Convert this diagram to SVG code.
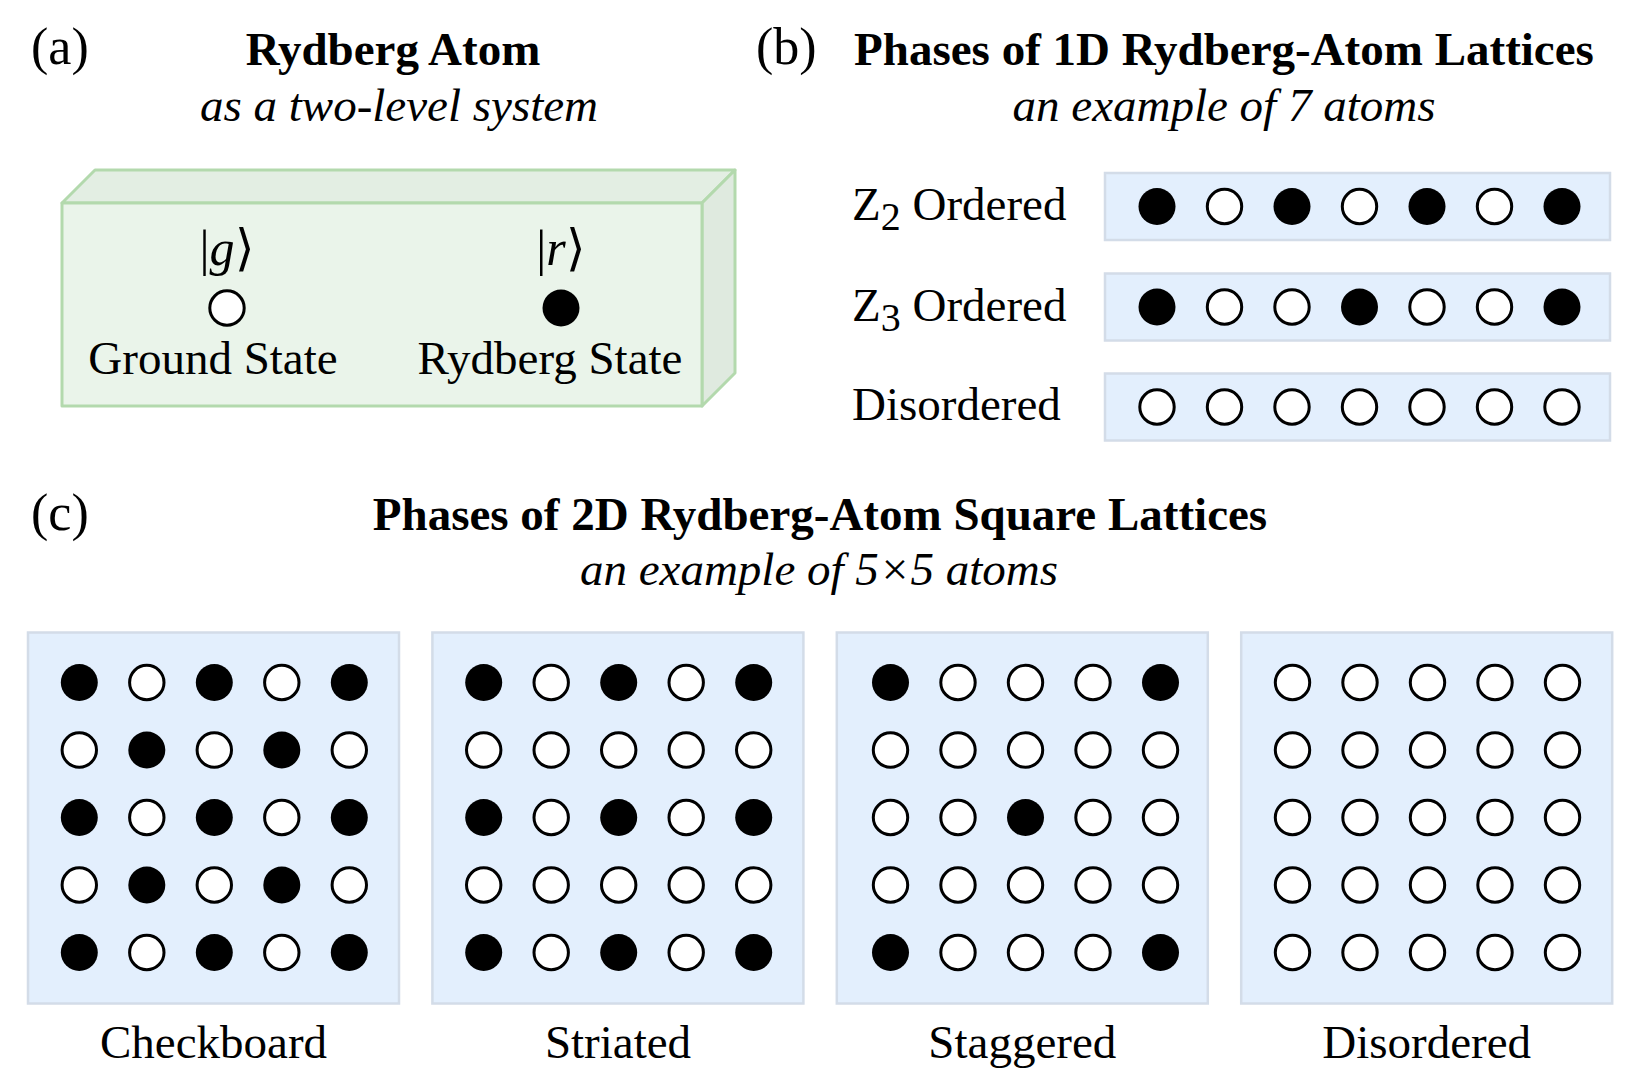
<svg xmlns="http://www.w3.org/2000/svg" xmlns:xlink="http://www.w3.org/1999/xlink" width="1630" height="1084" viewBox="0 0 1630 1084">
<style>
text{font-family:"Liberation Serif","Times New Roman",serif;fill:#000;font-size:47px}
.b{font-weight:bold}
.i{font-style:italic}
.m{text-anchor:middle}
.lab{font-size:52px}
.ket{font-size:50px}
.box{fill:#e3effd;stroke:#d3dce8;stroke-width:2.5}
.gf{fill:#eaf4ea;stroke:#b3d9ad;stroke-width:3;stroke-linejoin:round}
.gt{fill:#e3eee3;stroke:#b3d9ad;stroke-width:3;stroke-linejoin:round}
.gr{fill:#dfeadf;stroke:#b3d9ad;stroke-width:3;stroke-linejoin:round}
</style>
<defs>
<circle id="f" r="18.5" fill="#000"/>
<circle id="o" r="17.2" fill="#fff" stroke="#000" stroke-width="3"/>
</defs>
<rect width="1630" height="1084" fill="#fff"/>

<g id="panel-a">
<text class="lab" x="31" y="64">(a)</text>
<text class="b m" x="393" y="65">Rydberg Atom</text>
<text class="i m" x="399" y="121">as a two-level system</text>
<g id="atom-box">
<polygon class="gt" points="62,203 95,170 735,170 702,203"/>
<polygon class="gr" points="702,203 735,170 735,373 702,406"/>
<rect class="gf" x="62" y="203" width="640" height="203"/>
</g>
<g id="ground">
<text class="m ket" x="227" y="265">|<tspan class="i">g</tspan>⟩</text>
<use href="#o" x="227" y="308"/>
<text class="m" x="213" y="374">Ground State</text>
</g>
<g id="rydberg">
<text class="m ket" x="561" y="265">|<tspan class="i">r</tspan>⟩</text>
<use href="#f" x="561" y="308"/>
<text class="m" x="550" y="374">Rydberg State</text>
</g>
</g>

<g id="panel-b">
<text class="lab" x="756" y="64">(b)</text>
<text class="b m" x="1224" y="65">Phases of 1D Rydberg-Atom Lattices</text>
<text class="i m" x="1224" y="121">an example of 7 atoms</text>
<g id="row-z2">
<text x="852" y="220">Z<tspan font-size="40" dy="10">2</tspan><tspan dy="-10"> Ordered</tspan></text>
<rect class="box" x="1105" y="173" width="505" height="67"/>
<use href="#f" x="1157" y="206.5"/><use href="#o" x="1224.5" y="206.5"/><use href="#f" x="1292" y="206.5"/><use href="#o" x="1359.5" y="206.5"/><use href="#f" x="1427" y="206.5"/><use href="#o" x="1494.5" y="206.5"/><use href="#f" x="1562" y="206.5"/>
</g>
<g id="row-z3">
<text x="852" y="321">Z<tspan font-size="40" dy="10">3</tspan><tspan dy="-10"> Ordered</tspan></text>
<rect class="box" x="1105" y="273.5" width="505" height="67"/>
<use href="#f" x="1157" y="307"/><use href="#o" x="1224.5" y="307"/><use href="#o" x="1292" y="307"/><use href="#f" x="1359.5" y="307"/><use href="#o" x="1427" y="307"/><use href="#o" x="1494.5" y="307"/><use href="#f" x="1562" y="307"/>
</g>
<g id="row-dis">
<text x="852" y="420">Disordered</text>
<rect class="box" x="1105" y="373.5" width="505" height="67"/>
<use href="#o" x="1157" y="407"/><use href="#o" x="1224.5" y="407"/><use href="#o" x="1292" y="407"/><use href="#o" x="1359.5" y="407"/><use href="#o" x="1427" y="407"/><use href="#o" x="1494.5" y="407"/><use href="#o" x="1562" y="407"/>
</g>
</g>

<g id="panel-c">
<text class="lab" x="31" y="530">(c)</text>
<text class="b m" x="820" y="530">Phases of 2D Rydberg-Atom Square Lattices</text>
<text class="i m" x="819" y="585">an example of 5×5 atoms</text>

<g id="checkboard">
<rect class="box" x="28" y="632.5" width="371" height="371"/>
<g transform="translate(79.3,682.5)">
<use href="#f" x="0" y="0"/><use href="#o" x="67.5" y="0"/><use href="#f" x="135" y="0"/><use href="#o" x="202.5" y="0"/><use href="#f" x="270" y="0"/>
<use href="#o" x="0" y="67.5"/><use href="#f" x="67.5" y="67.5"/><use href="#o" x="135" y="67.5"/><use href="#f" x="202.5" y="67.5"/><use href="#o" x="270" y="67.5"/>
<use href="#f" x="0" y="135"/><use href="#o" x="67.5" y="135"/><use href="#f" x="135" y="135"/><use href="#o" x="202.5" y="135"/><use href="#f" x="270" y="135"/>
<use href="#o" x="0" y="202.5"/><use href="#f" x="67.5" y="202.5"/><use href="#o" x="135" y="202.5"/><use href="#f" x="202.5" y="202.5"/><use href="#o" x="270" y="202.5"/>
<use href="#f" x="0" y="270"/><use href="#o" x="67.5" y="270"/><use href="#f" x="135" y="270"/><use href="#o" x="202.5" y="270"/><use href="#f" x="270" y="270"/>
</g>
<text class="m" x="213.5" y="1058">Checkboard</text>
</g>

<g id="striated">
<rect class="box" x="432.4" y="632.5" width="371" height="371"/>
<g transform="translate(483.7,682.5)">
<use href="#f" x="0" y="0"/><use href="#o" x="67.5" y="0"/><use href="#f" x="135" y="0"/><use href="#o" x="202.5" y="0"/><use href="#f" x="270" y="0"/>
<use href="#o" x="0" y="67.5"/><use href="#o" x="67.5" y="67.5"/><use href="#o" x="135" y="67.5"/><use href="#o" x="202.5" y="67.5"/><use href="#o" x="270" y="67.5"/>
<use href="#f" x="0" y="135"/><use href="#o" x="67.5" y="135"/><use href="#f" x="135" y="135"/><use href="#o" x="202.5" y="135"/><use href="#f" x="270" y="135"/>
<use href="#o" x="0" y="202.5"/><use href="#o" x="67.5" y="202.5"/><use href="#o" x="135" y="202.5"/><use href="#o" x="202.5" y="202.5"/><use href="#o" x="270" y="202.5"/>
<use href="#f" x="0" y="270"/><use href="#o" x="67.5" y="270"/><use href="#f" x="135" y="270"/><use href="#o" x="202.5" y="270"/><use href="#f" x="270" y="270"/>
</g>
<text class="m" x="618" y="1058">Striated</text>
</g>

<g id="staggered">
<rect class="box" x="836.8" y="632.5" width="371" height="371"/>
<g transform="translate(890.5,682.5)">
<use href="#f" x="0" y="0"/><use href="#o" x="67.5" y="0"/><use href="#o" x="135" y="0"/><use href="#o" x="202.5" y="0"/><use href="#f" x="270" y="0"/>
<use href="#o" x="0" y="67.5"/><use href="#o" x="67.5" y="67.5"/><use href="#o" x="135" y="67.5"/><use href="#o" x="202.5" y="67.5"/><use href="#o" x="270" y="67.5"/>
<use href="#o" x="0" y="135"/><use href="#o" x="67.5" y="135"/><use href="#f" x="135" y="135"/><use href="#o" x="202.5" y="135"/><use href="#o" x="270" y="135"/>
<use href="#o" x="0" y="202.5"/><use href="#o" x="67.5" y="202.5"/><use href="#o" x="135" y="202.5"/><use href="#o" x="202.5" y="202.5"/><use href="#o" x="270" y="202.5"/>
<use href="#f" x="0" y="270"/><use href="#o" x="67.5" y="270"/><use href="#o" x="135" y="270"/><use href="#o" x="202.5" y="270"/><use href="#f" x="270" y="270"/>
</g>
<text class="m" x="1022.3" y="1058">Staggered</text>
</g>

<g id="disordered-2d">
<rect class="box" x="1241.2" y="632.5" width="371" height="371"/>
<g transform="translate(1292.5,682.5)">
<use href="#o" x="0" y="0"/><use href="#o" x="67.5" y="0"/><use href="#o" x="135" y="0"/><use href="#o" x="202.5" y="0"/><use href="#o" x="270" y="0"/>
<use href="#o" x="0" y="67.5"/><use href="#o" x="67.5" y="67.5"/><use href="#o" x="135" y="67.5"/><use href="#o" x="202.5" y="67.5"/><use href="#o" x="270" y="67.5"/>
<use href="#o" x="0" y="135"/><use href="#o" x="67.5" y="135"/><use href="#o" x="135" y="135"/><use href="#o" x="202.5" y="135"/><use href="#o" x="270" y="135"/>
<use href="#o" x="0" y="202.5"/><use href="#o" x="67.5" y="202.5"/><use href="#o" x="135" y="202.5"/><use href="#o" x="202.5" y="202.5"/><use href="#o" x="270" y="202.5"/>
<use href="#o" x="0" y="270"/><use href="#o" x="67.5" y="270"/><use href="#o" x="135" y="270"/><use href="#o" x="202.5" y="270"/><use href="#o" x="270" y="270"/>
</g>
<text class="m" x="1426.7" y="1058">Disordered</text>
</g>
</g>
<g id="connectors"/>
</svg>
